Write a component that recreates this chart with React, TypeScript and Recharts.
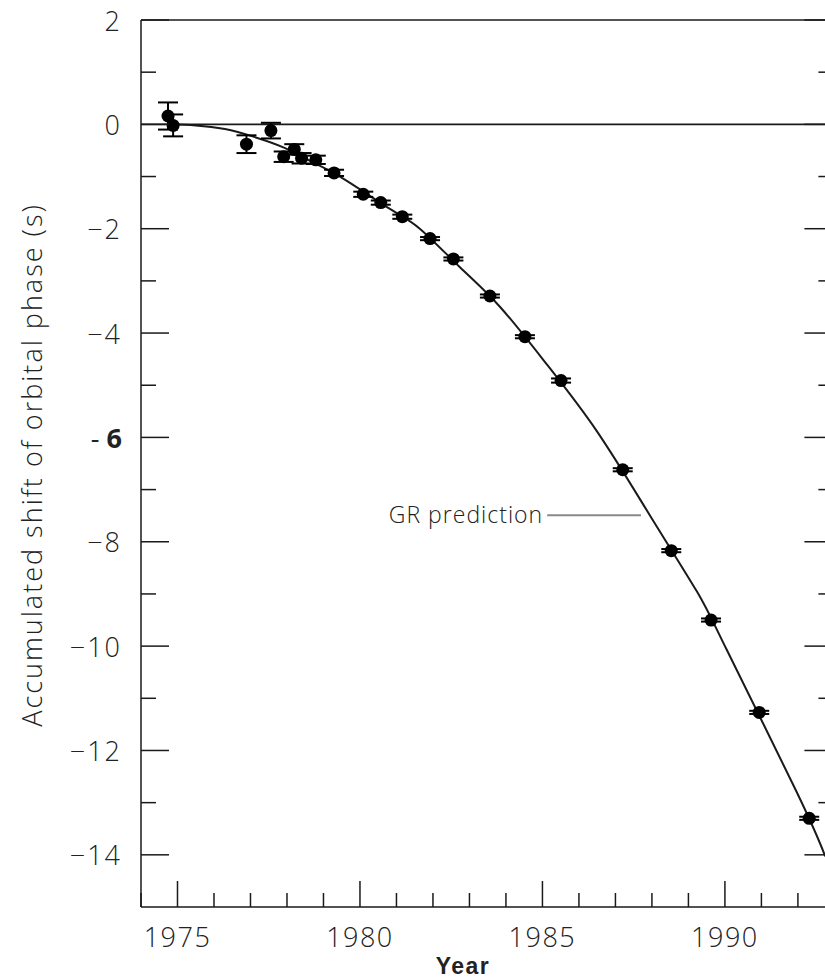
import {
  ComposedChart,
  ErrorBar,
  Line,
  ReferenceLine,
  Scatter,
  XAxis,
  YAxis,
} from 'recharts'

// measured timing residuals (year, accumulated shift in s, 1-sigma error)
const obsYears = [
  1974.74, 1974.88, 1976.89, 1977.56, 1977.91, 1978.2, 1978.4, 1978.79, 1979.29,
  1980.09, 1980.57, 1981.16, 1981.92, 1982.56, 1983.56, 1984.52, 1985.51, 1987.2,
  1988.53, 1989.62, 1990.94, 1992.31,
]
const obsShift = [
  0.16, -0.02, -0.38, -0.12, -0.62, -0.48, -0.65, -0.68, -0.93, -1.34, -1.5, -1.77,
  -2.19, -2.58, -3.29, -4.07, -4.91, -6.62, -8.17, -9.5, -11.27, -13.3,
]
const obsErr = [
  0.26, 0.21, 0.17, 0.15, 0.1, 0.1, 0.1, 0.08, 0.06, 0.05, 0.04, 0.04, 0.03, 0.03,
  0.03, 0.03, 0.04, 0.03, 0.03, 0.03, 0.03, 0.03,
]

// GR prediction curve
const grYears = [
  1974.75, 1975.5, 1976.3, 1977.1, 1977.9, 1978.63, 1979.54, 1980.82, 1981.64,
  1982.74, 1983.84, 1985.12, 1986.49, 1987.95, 1989.23, 1990.05, 1991.97, 1992.75,
]
const grShift = [
  0, -0.02, -0.09, -0.24, -0.44, -0.7, -1.04, -1.62, -2.0, -2.74, -3.5, -4.6,
  -5.88, -7.5, -8.95, -10.07, -12.8, -14.03,
]

const xTicks = [
  1974, 1975, 1976, 1977, 1978, 1979, 1980, 1981, 1982, 1983, 1984, 1985, 1986,
  1987, 1988, 1989, 1990, 1991, 1992, 1993,
]
const xLabelled = [1975, 1980, 1985, 1990]
const yTicks = [
  2, 1, 0, -1, -2, -3, -4, -5, -6, -7, -8, -9, -10, -11, -12, -13, -14,
]
const yLabelled = [2, 0, -2, -4, -6, -8, -10, -12, -14]

const obs = obsYears.map((year, i) => ({ year, shift: obsShift[i], err: obsErr[i] }))
const gr = grYears.map((year, i) => ({ year, shift: grShift[i] }))

const INK = '#1a1a1a'
const TEXT = '#222'
const FONT = '"Open Sans", "Liberation Sans", sans-serif'

const fmtY = (v: number) => (v < 0 ? `\u2212${Math.abs(v)}` : `${v}`)

function LeftTick({ x, y, payload }: any) {
  const v = payload.value as number
  const major = yLabelled.includes(v)
  return (
    <g>
      <line x1={x} x2={x + (major ? 28 : 15)} y1={y} y2={y} stroke={INK} strokeWidth={1.5} />
      {major &&
        (v === -6 ? (
          <text x={x - 19} y={y} textAnchor="end" dominantBaseline="central" fontSize={27} fill={TEXT} fontFamily={FONT}>
            <tspan fontWeight={400}>-  </tspan>
            <tspan fontWeight={700}>6</tspan>
          </text>
        ) : (
          <text
            x={x - 19}
            y={y}
            textAnchor="end"
            dominantBaseline="central"
            fontSize={27}
            fontWeight={300}
            letterSpacing={2}
            fill={TEXT}
            fontFamily={FONT}
          >
            {fmtY(v)}
          </text>
        ))}
    </g>
  )
}

function RightTick({ x, y, payload }: any) {
  const major = yLabelled.includes(payload.value)
  return <line x1={x} x2={x - (major ? 30 : 16)} y1={y} y2={y} stroke={INK} strokeWidth={1.5} />
}

function BottomTick({ x, y, payload }: any) {
  const v = payload.value as number
  const major = xLabelled.includes(v)
  return (
    <g>
      <line x1={x} x2={x} y1={y} y2={y - (major ? 26 : 14)} stroke={INK} strokeWidth={1.5} />
      {major && (
        <text
          x={x}
          y={y + 29}
          textAnchor="middle"
          dominantBaseline="central"
          fontSize={27}
          fontWeight={300}
          letterSpacing={1.5}
          fill={TEXT}
          fontFamily={FONT}
        >
          {v}
        </text>
      )}
    </g>
  )
}

function TopTick({ x, y, payload }: any) {
  const major = xLabelled.includes(payload.value)
  return <line x1={x} x2={x} y1={y} y2={y + (major ? 29 : 12)} stroke={INK} strokeWidth={1.5} />
}

function Dot({ cx, cy }: any) {
  return <circle cx={cx} cy={cy} r={6.5} fill="#000" />
}

export default function App() {
  return (
    <div
      style={{
        position: 'absolute',
        left: 0,
        top: 0,
        width: 825,
        height: 979,
        overflow: 'hidden',
        background: '#fff',
      }}
    >
      <ComposedChart width={860} height={979} margin={{ top: 19, right: 24.6, bottom: 71, left: 140 }}>
        <XAxis
          xAxisId="bottom"
          type="number"
          dataKey="year"
          domain={[1974, 1993]}
          ticks={xTicks}
          interval={0}
          allowDataOverflow
          height={1}
          tickSize={0}
          tickMargin={0}
          tickLine={false}
          axisLine={{ stroke: INK, strokeWidth: 1.5 }}
          tick={<BottomTick />}
        />
        <XAxis
          xAxisId="top"
          orientation="top"
          type="number"
          domain={[1974, 1993]}
          ticks={xTicks}
          interval={0}
          allowDataOverflow
          height={1}
          tickSize={0}
          tickMargin={0}
          tickLine={false}
          axisLine={{ stroke: INK, strokeWidth: 1.5 }}
          tick={<TopTick />}
        />
        <YAxis
          yAxisId="left"
          type="number"
          domain={[-15, 2]}
          ticks={yTicks}
          interval={0}
          allowDataOverflow
          width={1}
          tickSize={0}
          tickMargin={0}
          tickLine={false}
          axisLine={{ stroke: INK, strokeWidth: 1.5 }}
          tick={<LeftTick />}
        />
        <YAxis
          yAxisId="right"
          orientation="right"
          type="number"
          domain={[-15, 2]}
          ticks={yTicks}
          interval={0}
          allowDataOverflow
          width={1}
          tickSize={0}
          tickMargin={0}
          tickLine={false}
          axisLine={{ stroke: INK, strokeWidth: 1.5 }}
          tick={<RightTick />}
        />
        <ReferenceLine xAxisId="bottom" yAxisId="left" y={0} stroke={INK} strokeWidth={1.8} />
        <ReferenceLine
          xAxisId="bottom"
          yAxisId="left"
          segment={[
            { x: 1985.13, y: -7.49 },
            { x: 1987.7, y: -7.49 },
          ]}
          stroke="#8a8a8a"
          strokeWidth={2}
          label={{
            value: 'GR prediction',
            position: 'left',
            offset: 4,
            fill: TEXT,
            fontSize: 23,
            fontWeight: 300,
            letterSpacing: 1,
            fontFamily: FONT,
          }}
        />
        <Line
          xAxisId="bottom"
          yAxisId="left"
          data={gr}
          dataKey="shift"
          type="natural"
          stroke={INK}
          strokeWidth={2}
          dot={false}
          activeDot={false}
          isAnimationActive={false}
        />
        <Scatter
          xAxisId="bottom"
          yAxisId="left"
          data={obs}
          dataKey="shift"
          shape={<Dot />}
          isAnimationActive={false}
        >
          <ErrorBar dataKey="err" direction="y" width={10} stroke="#000" strokeWidth={2} isAnimationActive={false} />
        </Scatter>
      </ComposedChart>
      <div
        style={{
          position: 'absolute',
          left: 31,
          top: 465,
          transform: 'translate(-50%, -50%) rotate(-90deg)',
          whiteSpace: 'nowrap',
          fontFamily: FONT,
          fontWeight: 300,
          fontSize: 27,
          letterSpacing: 2,
          color: TEXT,
        }}
      >
        Accumulated shift of orbital phase (s)
      </div>
      <div
        style={{
          position: 'absolute',
          left: 463,
          top: 966,
          transform: 'translate(-50%, -50%)',
          fontFamily: '"Liberation Sans", Arial, sans-serif',
          fontWeight: 700,
          fontSize: 23,
          letterSpacing: 1.5,
          color: '#222',
        }}
      >
        Year
      </div>
    </div>
  )
}
